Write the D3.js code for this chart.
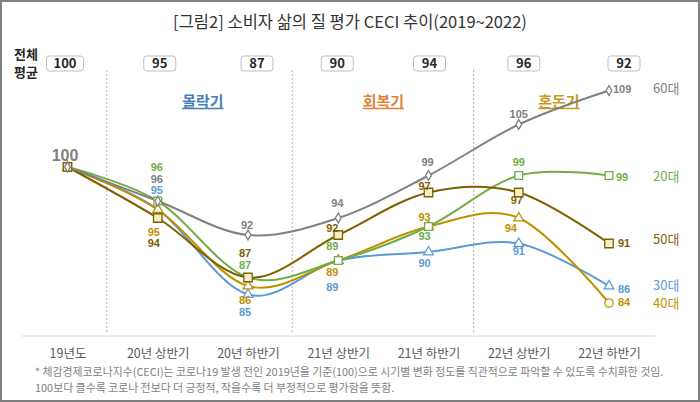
<!DOCTYPE html>
<html><head><meta charset="utf-8">
<script src="https://cdn.jsdelivr.net/npm/d3@7"></script>
<style>
html,body{margin:0;padding:0;background:#fff;}
svg{display:block;font-family:"Noto Sans CJK KR","Noto Sans",sans-serif;}
</style></head>
<body><svg id="c" width="700" height="402"></svg>
<script>
// ---- data ----
const categories = ['19년도','20년 상반기','20년 하반기','21년 상반기','21년 하반기','22년 상반기','22년 하반기'];
const avgValues = [100,95,87,90,94,96,92];
const age60 = [100,96,92,94,99,105,109];
const age20 = [100,96,87,89,93,99,99];
const age50 = [100,94,87,92,97,97,91];
const age40 = [100,95,86,89,93,94,84];
const age30 = [100,95,85,89,90,91,86];
const seriesNames = ['60대','20대','50대','40대','30대'];
const periodLabels = ['몰락기','회복기','혼돈기'];
const titleText = '[그림2] 소비자 삶의 질 평가 CECI 추이(2019~2022)';
const avgLabel = ['전체','평균'];
const footnotes = ['* 체감경제코로나지수(CECI)는 코로나19 발생 전인 2019년을 기준(100)으로 시기별 변화 정도를 직관적으로 파악할 수 있도록 수치화한 것임.',
                   '100보다 클수록 코로나 전보다 더 긍정적, 작을수록 더 부정적으로 평가함을 뜻함.'];

// ---- styles / layout ----
const W = 700, H = 402;
const numFont = '"Liberation Sans","Noto Sans",sans-serif';
const styles = {
  '60대': {color:'#808080', sym:d3.symbolDiamond, size:28, fill:'#fff'},
  '20대': {color:'#70ad47', sym:d3.symbolSquare, size:60, fill:'#fff'},
  '50대': {color:'#7f6000', sym:d3.symbolSquare, size:72, fill:'#f3eec6'},
  '40대': {color:'#bf9000', sym:d3.symbolTriangle, size:40, fill:'#fff', lastSym:d3.symbolCircle, lastSize:55},
  '30대': {color:'#5b9bd5', sym:d3.symbolTriangle, size:40, fill:'#fff'}
};
// label offsets [dx, dy] relative to each point (index 6 uses start anchor)
const labelOff = {
  '60대': [null,[-1,-22],[-1,-10],[-1,-15],[-1,-13],[0,-10],[4,-1]],
  '20대': [null,[-1,-34],[-3,-12],[-6,-14],[-4,10],[0,-13],[7,2]],
  '50대': [null,[-4,25],[-3,-24],[-6,-7],[-4,-6],[-2,8],[9,0]],
  '40대': [null,[-4,23],[-3,14],[-6,12],[-4,-9],[-8,10],[9,-1]],
  '30대': [null,[-1,-19],[-3,18],[-6,27],[-4,11],[0,8],[9,3]]
};
const nameDy = {'60대':-2,'20대':1,'50대':-4,'40대':0,'30대':-1};
const boxShift = [-2.5,2,9,-1,1,5,15];

const svg = d3.select('#c');
const x = d3.scalePoint().domain(categories).range([67.5, 609]);
const y = d3.scaleLinear().domain([84,109]).range([303,90.5]);

// frame
svg.append('rect').attr('x',1).attr('y',1).attr('width',W-2).attr('height',H-2)
  .attr('fill','#fff').attr('stroke','#7f7f7f').attr('stroke-width',2);

// title
svg.append('text').attr('x',350).attr('y',22).attr('text-anchor','middle').attr('dy','0.35em')
  .attr('font-size',16.5).attr('fill','#333').text(titleText);

// 전체 평균
avgLabel.forEach((t,i)=>svg.append('text').attr('x',26).attr('y',54+i*18).attr('dy','0.35em')
  .attr('text-anchor','middle').attr('font-size',13).attr('font-weight',700).attr('fill','#262626').text(t));

// boxes
const boxes = svg.append('g');
avgValues.forEach((v,i)=>{
  const cx = x(categories[i]) + boxShift[i];
  const w = v>=100 ? 37 : 32;
  boxes.append('rect').attr('x',cx-w/2).attr('y',56).attr('width',w).attr('height',15).attr('rx',3)
    .attr('fill','#fff').attr('stroke','#bfbfbf').attr('stroke-width',1);
  boxes.append('text').attr('x',cx).attr('y',63.5).attr('dy','0.35em').attr('text-anchor','middle')
    .attr('font-size',13).attr('font-weight',700).attr('fill','#262626').text(v);
});

// dividers
const step = x.step();
const dividers = [[0,0.435],[2,0.49],[4,0.5]];
dividers.forEach(([i,f])=>{
  const dx = x(categories[i]) + f*step;
  svg.append('line').attr('x1',dx).attr('x2',dx).attr('y1',70).attr('y2',333)
    .attr('stroke','#c9a3a3').attr('stroke-width',1).attr('stroke-dasharray','2,2');
});

// axis baseline
svg.append('line').attr('x1',22).attr('x2',655).attr('y1',336).attr('y2',336).attr('stroke','#d9d9d9').attr('stroke-width',1);
const xAxis = d3.axisBottom(x).tickSize(0).tickPadding(0);
const ax = svg.append('g').attr('transform','translate(0,349)').call(xAxis);
ax.select('.domain').remove();
ax.selectAll('text').attr('font-size',12.5).attr('fill','#595959').attr('font-family','"Noto Sans CJK KR",sans-serif');

// period labels
const periodColors = ['#4a7ebb','#e0843a','#c59a1a'];
const periodPos = [[1,2,0],[3,4,0],[5,6,-5]];
periodLabels.forEach((t,i)=>{
  const [a,b,o] = periodPos[i];
  const cx = (x(categories[a])+x(categories[b]))/2 + o;
  svg.append('text').attr('x',cx).attr('y',101.5).attr('dy','0.35em').attr('text-anchor','middle')
    .attr('font-size',15).attr('font-weight',700).attr('fill',periodColors[i])
    .attr('text-decoration','underline').text(t);
});

// series
const seriesData = {'60대':age60,'20대':age20,'50대':age50,'40대':age40,'30대':age30};
const line = d3.line().x((d,i)=>x(categories[i])).y(d=>y(d)).curve(d3.curveCardinal.tension(0));
const drawOrder = ['30대','40대','20대','50대','60대'];
drawOrder.forEach(name=>{
  const st = styles[name];
  svg.append('path').datum(seriesData[name]).attr('d',line).attr('fill','none')
    .attr('stroke',st.color).attr('stroke-width',2);
});
drawOrder.forEach(name=>{
  const st = styles[name];
  seriesData[name].forEach((v,i)=>{
    const last = i===categories.length-1 && st.lastSym;
    const sym = d3.symbol().type(last?st.lastSym:st.sym).size(last?st.lastSize:st.size);
    svg.append('path').attr('d',sym()).attr('transform',`translate(${x(categories[i])},${y(v)})`)
      .attr('fill',st.fill).attr('stroke',st.color).attr('stroke-width',1.3);
  });
});

// data labels
seriesNames.forEach(name=>{
  const st = styles[name];
  seriesData[name].forEach((v,i)=>{
    const off = labelOff[name][i];
    if(!off) return;
    const isLast = i===categories.length-1;
    svg.append('text').attr('x',x(categories[i])+off[0]).attr('y',y(v)+off[1]).attr('dy','0.35em')
      .attr('text-anchor',isLast?'start':'middle').attr('font-size',11).attr('font-weight',700)
      .attr('font-family',numFont).attr('fill',st.color).text(v);
  });
  // series name at right
  const lv = seriesData[name][categories.length-1];
  svg.append('text').attr('x',653).attr('y',y(lv)+nameDy[name]).attr('dy','0.35em')
    .attr('font-size',13).attr('fill',st.color).text(name);
});
// start label 100
svg.append('text').attr('x',x(categories[0])-2.5).attr('y',y(age60[0])-12).attr('dy','0.35em')
  .attr('text-anchor','middle').attr('font-size',16).attr('font-weight',700).attr('font-family',numFont)
  .attr('fill','#7f7f7f').text(age60[0]);

// footnotes
footnotes.forEach((t,i)=>svg.append('text').attr('x',35).attr('y',372+i*16).attr('dy','0.35em')
  .attr('font-size',10.9).attr('fill','#7f7f7f').text(t));
</script></body></html>
